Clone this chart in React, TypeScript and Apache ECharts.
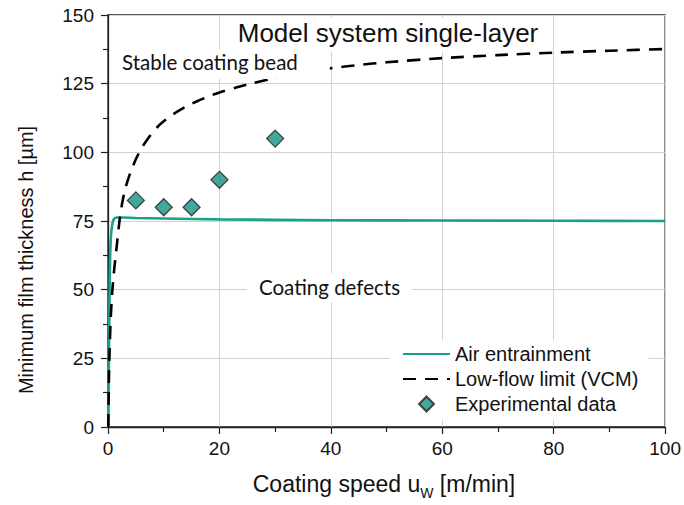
import React, { useEffect, useRef } from "react";
import * as echarts from "echarts";

const xTicks = [0, 20, 40, 60, 80, 100];
const yTicks = [0, 25, 50, 75, 100, 125, 150];

// Air entrainment curve (x: coating speed, y: min film thickness)
const airX = [0.05, 0.12, 0.2, 0.28, 0.36, 0.5, 0.7, 1.0, 1.5, 2.5, 5, 10, 20, 40, 60, 80, 100];
const airY = [0, 15, 32, 48, 60, 68.5, 73, 75.5, 76.3, 76.3, 76.1, 75.9, 75.6, 75.3, 75.2, 75.1, 75.0];

// Low-flow limit (VCM)
const vcmX = [0.05, 0.15, 0.3, 0.5, 0.75, 1.0, 1.3, 1.6, 2.0, 2.5, 3.0, 3.5, 4.0, 5.0, 6.0, 7.0, 8.0, 9.0, 10, 12, 14, 16, 18, 20, 23, 26, 30, 35, 40, 45, 50, 60, 70, 80, 90, 100];
const vcmY = [0, 16, 29, 40, 49, 55, 61, 66.5, 74, 81, 86, 89.5, 92.5, 97.5, 101.5, 104.5, 107.2, 109.5, 111.3, 114.3, 116.7, 118.6, 120.3, 121.8, 123.6, 125.2, 127, 129, 130.6, 131.8, 132.8, 134.3, 135.4, 136.3, 137, 137.6];

// Experimental data
const expX = [5, 10, 15, 20, 30];
const expY = [82.5, 80, 80, 90, 105];

const seriesNames = ["Air entrainment", "Low-flow limit (VCM)", "Experimental data"];

export default function App() {
  const ref = useRef<HTMLDivElement>(null);
  useEffect(() => {
    document.body.style.margin = "0";
    const chart = echarts.init(ref.current!, null, { renderer: "svg" });
    const axisFont = "Liberation Sans, Arial, sans-serif";
    const calFont = "Lato, Open Sans, sans-serif";
    chart.setOption({
      animation: false,
      backgroundColor: "#fff",
      grid: {
        left: 108,
        right: 16,
        top: 15,
        bottom: 78,
        show: true,
        borderColor: "#222",
        borderWidth: 1.3,
        backgroundColor: "transparent",
      },
      xAxis: {
        type: "value",
        min: xTicks[0],
        max: xTicks[xTicks.length - 1],
        interval: 20,
        axisLine: { show: true, onZero: false, lineStyle: { color: "#222", width: 1.3 } },
        axisTick: { show: true, length: 7, lineStyle: { color: "#222", width: 1.2 } },
        minorTick: { show: true, splitNumber: 2, length: 5, lineStyle: { color: "#222", width: 1.2 } },
        axisLabel: { fontSize: 19, fontFamily: axisFont, color: "#111", margin: 12 },
        splitLine: { show: true, lineStyle: { color: "#d2d2d2", width: 1 } },
      },
      yAxis: {
        type: "value",
        min: yTicks[0],
        max: yTicks[yTicks.length - 1],
        interval: 25,
        axisLine: { show: true, onZero: false, lineStyle: { color: "#222", width: 1.3 } },
        axisTick: { show: true, length: 7, lineStyle: { color: "#222", width: 1.2 } },
        minorTick: { show: true, splitNumber: 2, length: 5, lineStyle: { color: "#222", width: 1.2 } },
        axisLabel: { fontSize: 19, fontFamily: axisFont, color: "#111", margin: 14 },
        splitLine: { show: true, lineStyle: { color: "#d2d2d2", width: 1 } },
      },
      legend: {
        data: [
          { name: seriesNames[0] },
          { name: seriesNames[1] },
          { name: seriesNames[2], icon: "path://M5 0L10 5L5 10L0 5Z" },
        ],
        orient: "vertical",
        left: 390,
        top: 340,
        backgroundColor: "#fff",
        padding: [4, 10, 6, 12],
        itemGap: 5,
        itemWidth: 47,
        itemHeight: 15,
        textStyle: { fontSize: 20, fontFamily: axisFont, color: "#111" },
      },
      graphic: [
        {
          type: "text",
          z: 1,
          x: 388,
          y: 18,
          style: {
            text: "Model system single-layer",
            fontSize: 26,
            fontFamily: axisFont,
            fill: "#111",
            align: "center",
            verticalAlign: "top",
            backgroundColor: "#fff",
            padding: [2, 4, 6, 4],
          },
        },
        {
          type: "text",
          z: 10,
          x: 118,
          y: 49,
          style: {
            text: "Stable coating bead",
            fontSize: 20.5,
            fontFamily: calFont,
            fill: "#111",
            verticalAlign: "top",
            backgroundColor: "#fff",
            padding: [2, 32, 7, 4],
          },
        },
        {
          type: "text",
          z: 1,
          x: 247,
          y: 273,
          style: {
            text: "Coating defects",
            fontSize: 20.5,
            fontFamily: calFont,
            fill: "#111",
            verticalAlign: "top",
            backgroundColor: "#fff",
            padding: [3, 12, 5, 12],
          },
        },
        {
          type: "text",
          z: 1,
          x: 26,
          y: 260,
          rotation: Math.PI / 2,
          style: {
            text: "Minimum film thickness h [µm]",
            fontSize: 20,
            fontFamily: axisFont,
            fill: "#111",
            align: "center",
            verticalAlign: "middle",
          },
        },
        {
          type: "text",
          z: 1,
          x: 384,
          y: 484,
          style: {
            text: "{a|Coating speed u}{s|W}{a| [m/min]}",
            align: "center",
            verticalAlign: "middle",
            rich: {
              a: { fontSize: 23, fontFamily: axisFont, fill: "#111" },
              s: { fontSize: 14, fontFamily: axisFont, fill: "#111", padding: [17, 0, 0, 0] },
            },
          },
        },
      ],
      series: [
        {
          name: seriesNames[0],
          type: "line",
          data: airX.map((x, i) => [x, airY[i]]),
          symbol: "none",
          smooth: 0.3,
          z: 3,
          lineStyle: { color: "#1ba08b", width: 2.6 },
          itemStyle: { color: "transparent", borderColor: "transparent", borderWidth: 0 },
        },
        {
          name: seriesNames[1],
          type: "line",
          data: vcmX.map((x, i) => [x, vcmY[i]]),
          symbol: "none",
          smooth: 0.2,
          z: 4,
          lineStyle: { color: "#000", width: 2.6, type: [13, 9] },
          itemStyle: { color: "transparent", borderColor: "transparent", borderWidth: 0 },
        },
        {
          name: seriesNames[2],
          type: "scatter",
          data: expX.map((x, i) => [x, expY[i]]),
          symbol: "diamond",
          symbolSize: 17,
          z: 5,
          itemStyle: { color: "#14917f", borderColor: "#222", borderWidth: 1.3 },
        },
      ],
    });
    return () => chart.dispose();
  }, []);
  return <div ref={ref} style={{ width: 684, height: 505 }} />;
}
